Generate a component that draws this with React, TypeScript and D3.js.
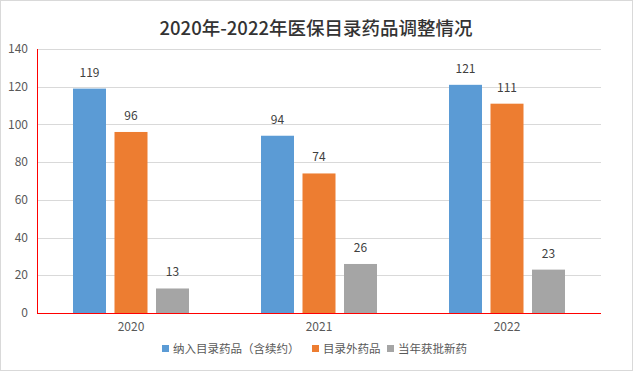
import React from "react";
import * as d3 from "d3";

const categories = ["2020", "2021", "2022"];
const seriesNames = ["纳入目录药品（含续约）", "目录外药品", "当年获批新药"];
const seriesColors = ["#5b9bd5", "#ed7d31", "#a5a5a5"];
const listedValues = [119, 94, 121];
const outsideValues = [96, 74, 111];
const newDrugValues = [13, 26, 23];
const yTicks = [0, 20, 40, 60, 80, 100, 120, 140];
const title = "2020年-2022年医保目录药品调整情况";

const W = 633;
const H = 371;
const FONT = "'Noto Sans CJK SC', 'Microsoft YaHei', sans-serif";

export default function App() {
  const series = [listedValues, outsideValues, newDrugValues];
  const left = 37;
  const right = 601;
  const top = 49;
  const bottom = 313;

  const x = d3.scaleBand<string>().domain(categories).range([left, right]).paddingInner(0).paddingOuter(0);
  const bandW = x.bandwidth();
  const barW = 33;
  const step = 41.5;
  const groupW = barW + step * 2;
  const y = d3.scaleLinear().domain([0, 140]).range([bottom, top]);

  const legendItems = [
    { name: seriesNames[0], color: seriesColors[0], x: 162 },
    { name: seriesNames[1], color: seriesColors[1], x: 312 },
    { name: seriesNames[2], color: seriesColors[2], x: 387 },
  ];

  return (
    <svg
      width={W}
      height={H}
      style={{ position: "absolute", left: 0, top: 0, fontFamily: FONT }}
    >
      <rect x={0.5} y={0.5} width={W - 1} height={H - 1} fill="#fff" stroke="#d9d9d9" />
      <text x={316} y={35} textAnchor="middle" fontSize={18.5} fill="#333" fontWeight={500}>
        {title}
      </text>
      {yTicks.map((t) => (
        <g key={t}>
          {t > 0 && (
            <line x1={left} x2={right} y1={Math.round(y(t)) + 0.5} y2={Math.round(y(t)) + 0.5} stroke="#d9d9d9" strokeWidth={1} />
          )}
          <text x={28} y={y(t)} dy="0.35em" textAnchor="end" fontSize={12} fill="#595959">
            {t}
          </text>
        </g>
      ))}
      {categories.map((c, i) => {
        const x0 = (x(c) as number) + (bandW - groupW) / 2;
        return (
          <g key={c}>
            {series.map((s, j) => {
              const bx = x0 + j * step;
              const by = y(s[i]);
              return (
                <g key={j}>
                  <rect x={bx} y={by} width={barW} height={bottom - by} fill={seriesColors[j]} />
                  <text
                    x={bx + barW / 2}
                    y={by - 12}
                    textAnchor="middle"
                    fontSize={12}
                    fill="#404040"
                  >
                    {s[i]}
                  </text>
                </g>
              );
            })}
            <text
              x={(x(c) as number) + bandW / 2}
              y={331}
              textAnchor="middle"
              fontSize={12}
              fill="#595959"
            >
              {c}
            </text>
          </g>
        );
      })}
      <line x1={left + 0.5} x2={left + 0.5} y1={top} y2={bottom + 1} stroke="#ff0000" strokeWidth={1} />
      <line x1={left} x2={right} y1={bottom + 0.5} y2={bottom + 0.5} stroke="#ff0000" strokeWidth={1} />
      {legendItems.map((it) => (
        <g key={it.name}>
          <rect x={it.x} y={345} width={7} height={7} fill={it.color} />
          <text x={it.x + 11} y={349} dy="0.35em" fontSize={11.5} fill="#595959">
            {it.name}
          </text>
        </g>
      ))}
    </svg>
  );
}
